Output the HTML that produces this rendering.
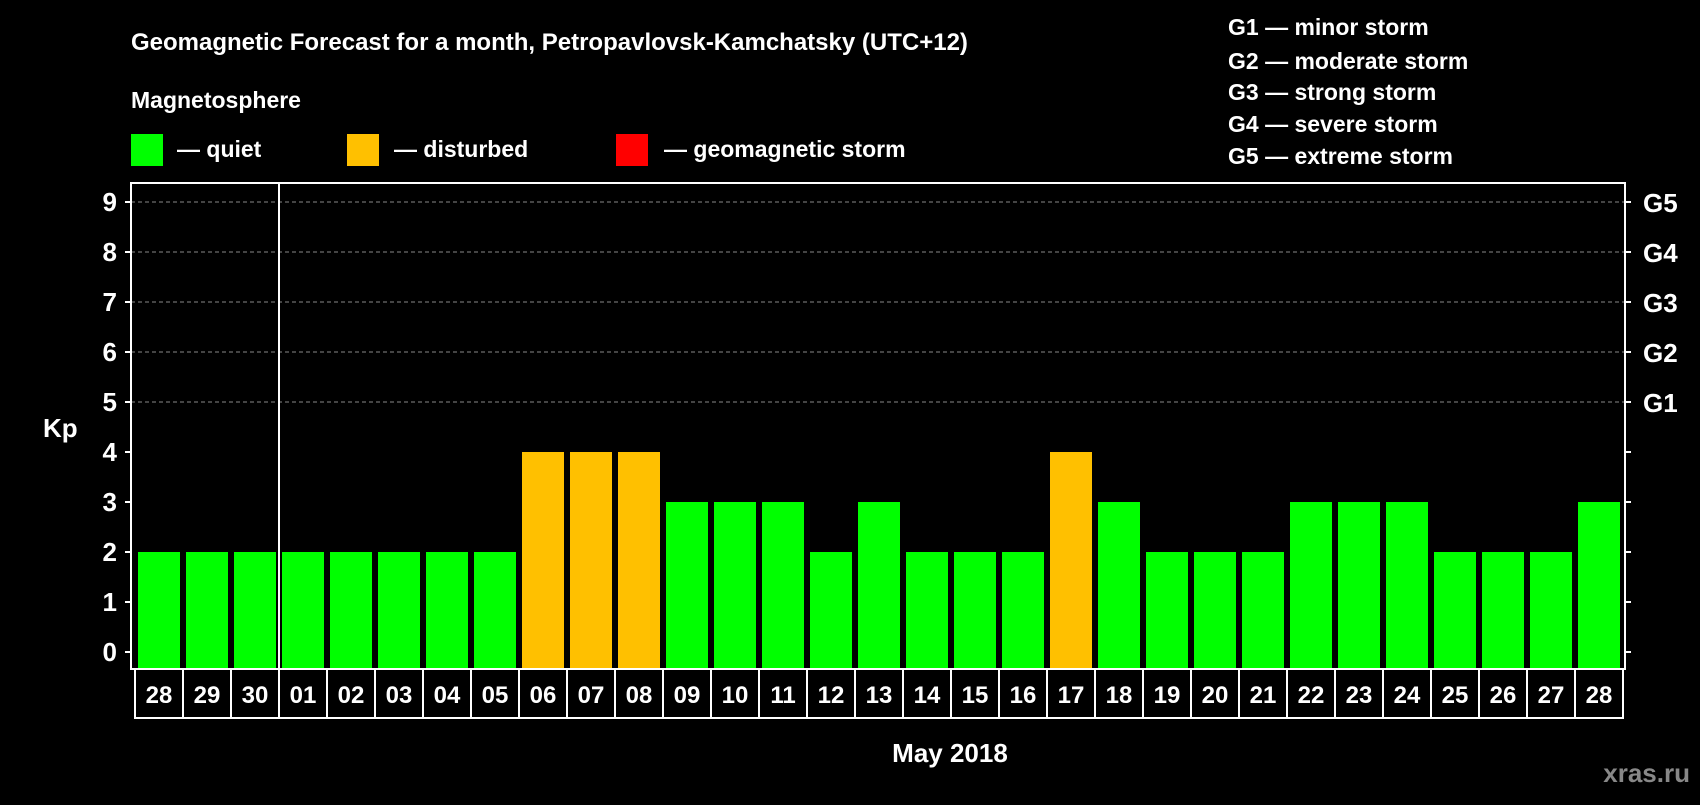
<!DOCTYPE html>
<html><head><meta charset="utf-8"><style>
body{margin:0;background:#000;width:1700px;height:800px;overflow:hidden}
svg text{font-family:"Liberation Sans",Arial,sans-serif;font-weight:bold;fill:#fff}
</style></head><body>
<svg id="c" width="1700" height="800">
<text x="131" y="50" font-size="24">Geomagnetic Forecast for a month, Petropavlovsk-Kamchatsky (UTC+12)</text>
<text x="131" y="108" font-size="23">Magnetosphere</text>
<g><rect x="131" y="134" width="32" height="32" fill="#00ff00"/><text x="177" y="157" font-size="23">— quiet</text></g>
<g><rect x="347" y="134" width="32" height="32" fill="#ffc000"/><text x="394" y="157" font-size="23">— disturbed</text></g>
<g><rect x="616" y="134" width="32" height="32" fill="#ff0000"/><text x="664" y="157" font-size="23">— geomagnetic storm</text></g>
<g font-size="23">
<text x="1228" y="35">G1 — minor storm</text>
<text x="1228" y="69">G2 — moderate storm</text>
<text x="1228" y="100">G3 — strong storm</text>
<text x="1228" y="132">G4 — severe storm</text>
<text x="1228" y="164">G5 — extreme storm</text>
</g>
<text x="43" y="437" font-size="26">Kp</text>
<text x="950" y="762" font-size="26" text-anchor="middle">May 2018</text>
<text x="1690" y="782" font-size="26" text-anchor="end" style="fill:#888">xras.ru</text>
<g id="plot"></g>
</svg>
<script>
const days=["28","29","30","01","02","03","04","05","06","07","08","09","10","11","12","13","14","15","16","17","18","19","20","21","22","23","24","25","26","27","28"];
const kp=[2,2,2,2,2,2,2,2,4,4,4,3,3,3,2,3,2,2,2,4,3,2,2,2,3,3,3,2,2,2,3];
const yTicks=[0,1,2,3,4,5,6,7,8,9];
const gLabels={5:"G1",6:"G2",7:"G3",8:"G4",9:"G5"};
const NS="http://www.w3.org/2000/svg";
const L=131,R=1625,T=183,B=669,X0=135,P=48;
const y=k=>652-50*k;
const x=i=>X0+i*P;
const g=document.getElementById('plot');
function el(t,a,p){const e=document.createElementNS(NS,t);for(const k in a)e.setAttribute(k,a[k]);(p||g).appendChild(e);return e;}
yTicks.forEach(k=>{
 if(k>=5){const ln=el('line',{x1:L,x2:R,y1:y(k),y2:y(k),stroke:'#888','stroke-dasharray':'4,3','stroke-width':1});
 
 }
 el('line',{x1:L-6,x2:L,y1:y(k),y2:y(k),stroke:'#fff','stroke-width':2});
 el('line',{x1:R,x2:R+6,y1:y(k),y2:y(k),stroke:'#fff','stroke-width':2});
 const t=el('text',{x:117,y:y(k)+9,'font-size':26,'text-anchor':'end'});t.textContent=k;
 
 
 if(gLabels[k]){const gt=el('text',{x:1643,y:y(k)+10,'font-size':26});gt.textContent=gLabels[k];
 
 }
});
kp.forEach((v,i)=>{
 const r=el('rect',{x:x(i)+3,y:y(v),width:42,height:B-y(v),fill:v>=5?'#ff0000':v>=4?'#ffc000':'#00ff00'});
 
 
 const b=el('rect',{x:x(i),y:B,width:P,height:49,fill:'#000',stroke:'#fff','stroke-width':2});
 
 
 const t=el('text',{x:x(i)+P/2,y:B+34,'font-size':24,'text-anchor':'middle'});t.textContent=days[i];
 
 
});
const fr=el('rect',{x:L,y:T,width:R-L,height:B-T,fill:'none',stroke:'#fff','stroke-width':2});


const sep=el('line',{x1:x(3),x2:x(3),y1:T,y2:B,stroke:'#fff','stroke-width':2});


</script>
</body></html>
